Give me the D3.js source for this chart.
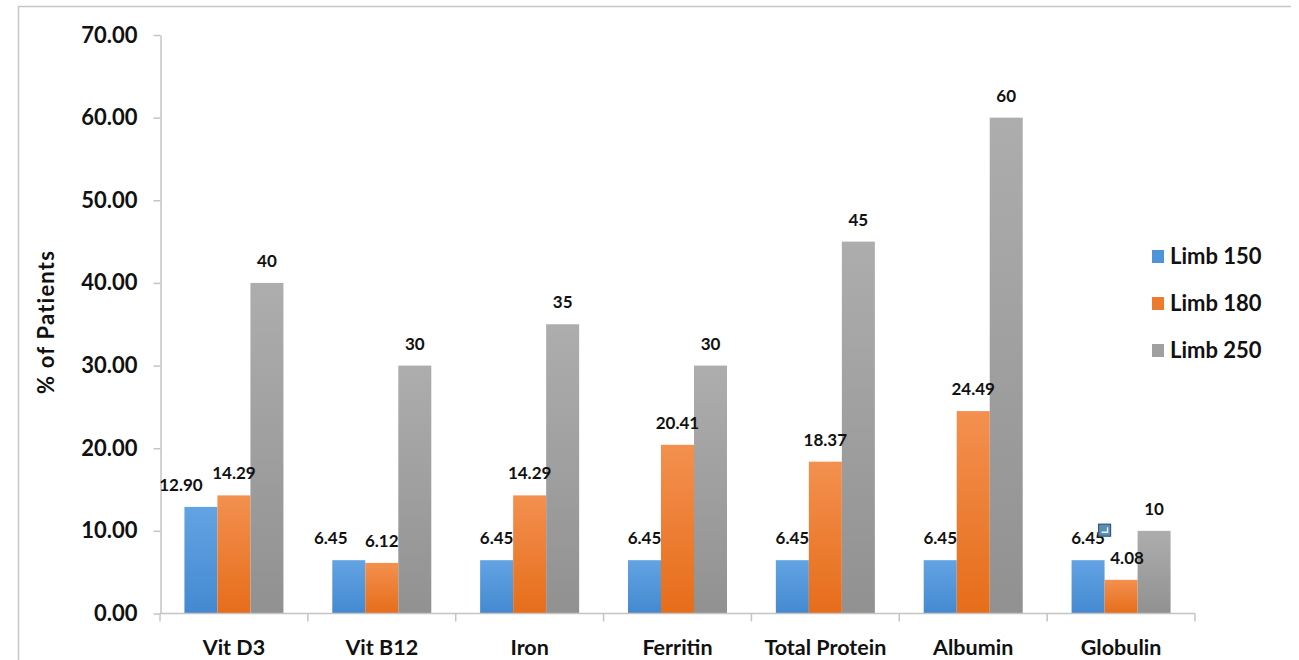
<!DOCTYPE html>
<html>
<head>
<meta charset="utf-8">
<script src="https://cdn.jsdelivr.net/npm/d3@7"></script>
<style>
  html, body { margin: 0; padding: 0; background: #ffffff; }
  svg { display: block; font-family: Lato, "Open Sans", sans-serif; font-weight: 700; }
</style>
</head>
<body>
<svg id="chart" width="1299" height="660"></svg>
<script>
// Test categories and the share of patients (%) in each limb group
const categories = ["Vit D3", "Vit B12", "Iron", "Ferritin", "Total Protein", "Albumin", "Globulin"];
const seriesNames = ["Limb 150", "Limb 180", "Limb 250"];
const limb150 = [12.90, 6.45, 6.45, 6.45, 6.45, 6.45, 6.45];
const limb180 = [14.29, 6.12, 14.29, 20.41, 18.37, 24.49, 4.08];
const limb250 = [40, 30, 35, 30, 45, 60, 10];
const yTicks = [0, 10, 20, 30, 40, 50, 60, 70];

const seriesValues = [limb150, limb180, limb250];
const seriesFormat = [d3.format(".2f"), d3.format(".2f"), d3.format("d")];
const colorTop = ["#62a3e3", "#f3904f", "#adadad"];
const colorBottom = ["#4489d0", "#e66d1a", "#919191"];
const legendColor = ["#4f93d8", "#ee7a2e", "#a0a0a0"];

// a few labels are shifted sideways to avoid their neighbours
const labelShift = { "Vit D3|0": -20, "Vit B12|0": -18, "Globulin|1": 6 };

const svg = d3.select("#chart");

// outer frame (top and left edges)
svg.append("path")
  .attr("d", "M18.5,660 L18.5,6.5 L1291,6.5")
  .attr("fill", "none").attr("stroke", "#c6c6c6").attr("stroke-width", 1.5);

const defs = svg.append("defs");
seriesNames.forEach((s, i) => {
  const g = defs.append("linearGradient").attr("id", "grad" + i)
    .attr("x1", 0).attr("y1", 0).attr("x2", 0).attr("y2", 1);
  g.append("stop").attr("offset", "0%").attr("stop-color", colorTop[i]);
  g.append("stop").attr("offset", "100%").attr("stop-color", colorBottom[i]);
});

const x0 = d3.scaleBand().domain(categories).range([160, 1195]);
const x1 = d3.scaleBand().domain(d3.range(seriesNames.length))
  .range([0, x0.bandwidth()]).paddingInner(0).paddingOuter(0.74);
const y = d3.scaleLinear().domain([0, 70]).range([613.5, 35]);

// y axis
const yAxis = svg.append("g").attr("transform", "translate(160.5,0)")
  .call(d3.axisLeft(y).tickValues(yTicks).tickFormat(d3.format(".2f")).tickSize(7).tickSizeOuter(0).tickPadding(16));
yAxis.select(".domain").attr("stroke", "#c4c4c4").attr("stroke-width", 1.5);
yAxis.selectAll(".tick line").attr("stroke", "#c4c4c4").attr("stroke-width", 1.5);
yAxis.selectAll(".tick text").attr("fill", "#111").style("font-size", "22px")
  .style("font-family", "Lato, sans-serif").style("font-weight", 700);

// bars
const groups = svg.append("g").selectAll("g").data(categories).join("g")
  .attr("transform", d => `translate(${x0(d)},0)`);

groups.selectAll("rect")
  .data((c, ci) => seriesValues.map((vals, si) => ({ c, si, v: vals[ci] })))
  .join("rect")
  .attr("x", d => x1(d.si))
  .attr("width", x1.bandwidth())
  .attr("y", d => y(d.v))
  .attr("height", d => y(0) - y(d.v))
  .attr("fill", d => `url(#grad${d.si})`);

// value labels
groups.selectAll("text.val")
  .data((c, ci) => seriesValues.map((vals, si) => ({ c, si, v: vals[ci] })))
  .join("text").attr("class", "val")
  .attr("x", d => x1(d.si) + x1.bandwidth() / 2 + (labelShift[d.c + "|" + d.si] || 0))
  .attr("y", d => y(d.v) - 16)
  .attr("text-anchor", "middle")
  .attr("fill", "#111")
  .style("font-size", "17px")
  .text(d => seriesFormat[d.si](d.v));

// x axis: baseline, category boundary ticks, category names
const xAxis = svg.append("g").attr("transform", `translate(0,${y(0)})`);
xAxis.append("line").attr("x1", 160).attr("x2", x0.range()[1])
  .attr("stroke", "#c4c4c4").attr("stroke-width", 1.5);
const bounds = categories.map(c => x0(c)).concat([x0.range()[1]]);
xAxis.selectAll("line.b").data(bounds).join("line").attr("class", "b")
  .attr("x1", d => d).attr("x2", d => d).attr("y1", 0).attr("y2", 8)
  .attr("stroke", "#c4c4c4").attr("stroke-width", 1.5);
xAxis.selectAll("text.cat").data(categories).join("text").attr("class", "cat")
  .attr("x", d => x0(d) + x0.bandwidth() / 2).attr("y", 41)
  .attr("text-anchor", "middle").attr("fill", "#111").style("font-size", "21.5px")
  .text(d => d);

// y axis title
svg.append("text")
  .attr("transform", "translate(54,322) rotate(-90)")
  .attr("text-anchor", "middle").attr("fill", "#111").style("font-size", "22px")
  .style("letter-spacing", "1.2px")
  .text("% of Patients");

// legend
const legend = svg.append("g").selectAll("g").data(seriesNames).join("g")
  .attr("transform", (d, i) => `translate(1152,${256 + i * 47})`);
legend.append("rect").attr("x", 0).attr("y", -6).attr("width", 12).attr("height", 13)
  .attr("fill", (d, i) => legendColor[i]);
legend.append("text").attr("x", 18).attr("y", 8).attr("fill", "#111")
  .style("font-size", "22px").text(d => d);

// small label-handle marker next to the Globulin value
const lastCat = categories[categories.length - 1];
const mx = x0(lastCat) + x1(0) + x1.bandwidth() - 6;
const my = y(limb150[limb150.length - 1]) - 36;
const marker = svg.append("g").attr("transform", `translate(${mx},${my})`);
marker.append("rect").attr("width", 12).attr("height", 12)
  .attr("fill", "#5b8fb5").attr("stroke", "#2f5a78").attr("stroke-width", 1.2);
marker.append("path").attr("d", "M3,8 L9,8 L9,3").attr("fill", "none")
  .attr("stroke", "#e8f2fa").attr("stroke-width", 1.4);
</script>
</body>
</html>
